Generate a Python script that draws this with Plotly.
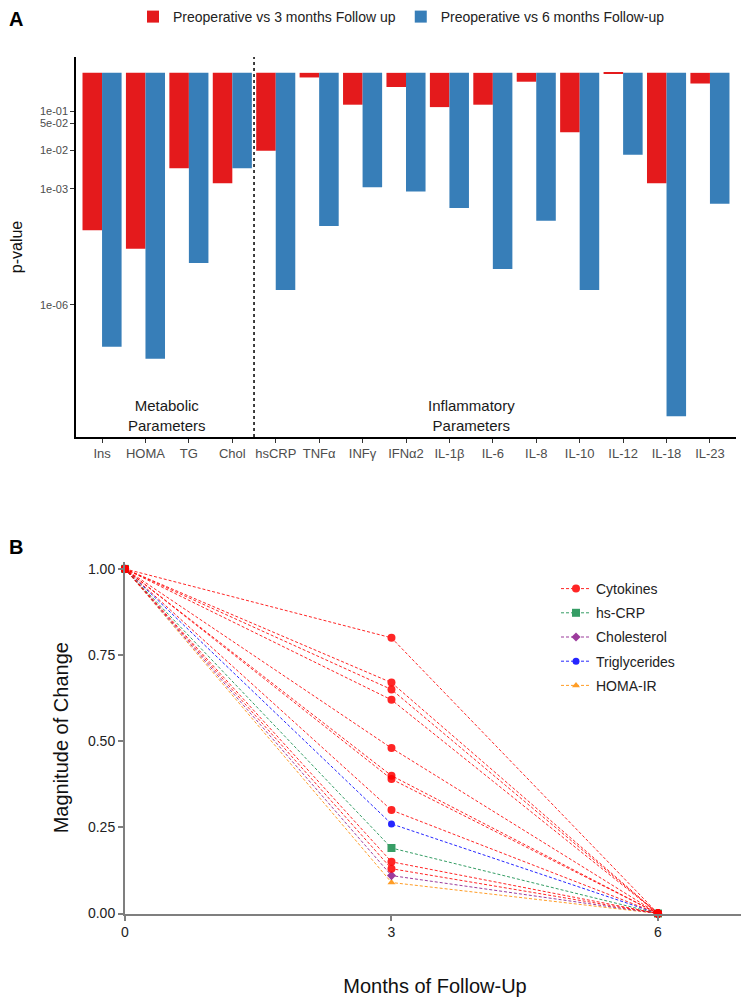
import math
import plotly.graph_objects as go

# ---------------- Panel A data ----------------
categories = ["Ins", "HOMA", "TG", "Chol", "hsCRP", "TNFα", "INFγ", "IFNα2",
              "IL-1β", "IL-6", "IL-8", "IL-10", "IL-12", "IL-18", "IL-23"]
p_3_months = [8.5e-5, 2.8e-5, 3.4e-3, 1.4e-3, 9.6e-3, 0.76, 0.15, 0.43,
              0.13, 0.15, 0.59, 0.029, 0.97, 1.4e-3, 0.53]
p_6_months = [8.2e-8, 4.0e-8, 1.2e-5, 3.4e-3, 2.4e-6, 1.1e-4, 1.1e-3, 8.5e-4,
              3.2e-4, 8.4e-6, 1.5e-4, 2.4e-6, 7.6e-3, 1.3e-9, 4.1e-4]
p_tick_vals = [1e-6, 1e-3, 1e-2, 5e-2, 1e-1]
p_tick_text = ["1e-06", "1e-03", "1e-02", "5e-02", "1e-01"]
significance = 0.05
group_labels = [("Metabolic<br>Parameters", 1.5), ("Inflammatory<br>Parameters", 8.5)]
group_split = 3.5

# ---------------- Panel B data ----------------
months = [0, 3, 6]
cytokines_3m = [0.80, 0.67, 0.65, 0.62, 0.48, 0.40, 0.39, 0.30, 0.15, 0.13]
hscrp_3m = 0.19
cholesterol_3m = 0.11
triglycerides_3m = 0.26
homa_3m = 0.09
start_value = 1.0
end_value = 0.0

FONT = "Liberation Sans, Arial, sans-serif"
RED = "#E41A1C"
BLUE = "#377EB8"

# page body has an 8px margin: the figure is sized to fill the rest of the window
OFF = 8
W, H = 749 - OFF, 1001 - OFF

def px_x(x):
    return (x - OFF) / W

def px_y(y):
    return 1 - (y - OFF) / H

fig = go.Figure()

# Panel A bars: drawn from p = 1 down to the p-value on a log axis
fig.add_trace(go.Bar(
    x=categories, y=[p - 1 for p in p_3_months], base=[1] * len(categories),
    customdata=p_3_months, hovertemplate="%{x}: p=%{customdata:.2e}<extra></extra>",
    name="Preoperative vs 3 months Follow up", marker=dict(color=RED, line=dict(width=0)),
    xaxis="x", yaxis="y", legend="legend"))
fig.add_trace(go.Bar(
    x=categories, y=[p - 1 for p in p_6_months], base=[1] * len(categories),
    customdata=p_6_months, hovertemplate="%{x}: p=%{customdata:.2e}<extra></extra>",
    name="Preoperative vs 6 months Follow-up", marker=dict(color=BLUE, line=dict(width=0)),
    xaxis="x", yaxis="y", legend="legend"))

# Panel B lines
def series(v):
    return [start_value, v, end_value]

line_specs = [
    ("HOMA-IR", [homa_3m], "#FF8C00", "triangle-up", 7, 5),
    ("Cholesterol", [cholesterol_3m], "#8B1A8B", "diamond", 7, 3),
    ("Triglycerides", [triglycerides_3m], "#0000FF", "circle", 7, 4),
    ("hs-CRP", [hscrp_3m], "#138D4B", "square", 8, 2),
    ("Cytokines", cytokines_3m, "#FF0000", "circle", 8, 1),
]
for name, vals, color, symbol, size, rank in line_specs:
    for i, v in enumerate(vals):
        fig.add_trace(go.Scatter(
            x=months, y=series(v), mode="lines+markers", name=name,
            legendgroup=name, showlegend=(i == 0), legendrank=rank,
            line=dict(color=color, width=1, dash="3px,2px"),
            marker=dict(color=color, symbol=symbol, size=size),
            opacity=0.85, cliponaxis=False,
            xaxis="x2", yaxis="y2", legend="legend2"))

axA_x = [px_x(76), px_x(736)]
axA_y = [px_y(437), px_y(57)]
axB_x = [px_x(125), px_x(745)]
axB_y = [px_y(913.5), px_y(562)]

fig.update_layout(
    width=W, height=H, autosize=False,
    margin=dict(l=0, r=0, t=0, b=0, autoexpand=False),
    paper_bgcolor="white", plot_bgcolor="white",
    font=dict(family=FONT, color="#222222"),
    barmode="group", bargap=0.1, bargroupgap=0,
    xaxis=dict(domain=axA_x, anchor="y", type="category", range=[-0.6, 14.6], automargin=False,
               showline=True, linecolor="black", linewidth=1.5, mirror=False,
               ticks="outside", ticklen=4, tickcolor="#333333", tickwidth=1,
               tickfont=dict(size=13, color="#4D4D4D", family=FONT),
               showgrid=False, zeroline=False, fixedrange=True),
    yaxis=dict(domain=axA_y, anchor="x", type="log", range=[-9.42, 0.41], automargin=False,
               tickvals=p_tick_vals, ticktext=p_tick_text,
               showline=True, linecolor="black", linewidth=1.5,
               ticks="outside", ticklen=4, tickcolor="#333333", tickwidth=1,
               tickfont=dict(size=11, color="#4D4D4D", family=FONT),
               title=dict(text="p-value", font=dict(size=16, color="#111111", family=FONT), standoff=14),
               showgrid=False, zeroline=False, fixedrange=True),
    xaxis2=dict(domain=axB_x, anchor="y2", range=[0, 6.98], automargin=False,
                tickvals=months, ticktext=[str(m) for m in months],
                showline=True, linecolor="#7F7F7F", linewidth=2,
                ticks="outside", ticklen=5, tickcolor="#7F7F7F", tickwidth=1.5,
                tickfont=dict(size=14, color="#222222", family=FONT),
                title=dict(text="Months of Follow-Up", font=dict(size=20, color="#111111", family=FONT), standoff=40),
                showgrid=False, zeroline=False, fixedrange=True),
    yaxis2=dict(domain=axB_y, anchor="x2", range=[0, 1.02], automargin=False,
                tickvals=[0, 0.25, 0.5, 0.75, 1.0], ticktext=["0.00", "0.25", "0.50", "0.75", "1.00"],
                showline=True, linecolor="#7F7F7F", linewidth=2,
                ticks="outside", ticklen=5, tickcolor="#7F7F7F", tickwidth=1.5,
                tickfont=dict(size=14, color="#222222", family=FONT),
                title=dict(text="Magnitude of Change", font=dict(size=20, color="#111111", family=FONT), standoff=14),
                showgrid=False, zeroline=False, fixedrange=True),
    legend=dict(orientation="h", x=px_x(133), xanchor="left", y=px_y(17), yanchor="middle",
                font=dict(size=14, color="#222222", family=FONT), bgcolor="rgba(0,0,0,0)",
                traceorder="normal"),
    legend2=dict(orientation="v", x=px_x(556), xanchor="left", y=px_y(573), yanchor="top",
                 font=dict(size=14, color="#222222", family=FONT), bgcolor="rgba(0,0,0,0)",
                 traceorder="grouped", tracegroupgap=3, itemsizing="trace"),
    showlegend=True,
)

shapes = [
    dict(type="line", xref="x domain", x0=0, x1=1, yref="y",
         y0=math.log10(significance), y1=math.log10(significance),
         line=dict(color="black", width=1.5, dash="dash")),
    dict(type="line", xref="x", x0=group_split, x1=group_split, yref="y domain", y0=0, y1=1,
         line=dict(color="black", width=1.5, dash="dot")),
]
fig.update_layout(shapes=shapes)

annotations = []
for label, xc in group_labels:
    annotations.append(dict(text=label, x=xc, xref="x", y=px_y(415), yref="paper",
                            showarrow=False, font=dict(size=15, color="#1A1A1A", family=FONT),
                            xanchor="center", yanchor="middle"))
annotations.append(dict(text="<b>A</b>", x=px_x(16), y=px_y(19), xref="paper", yref="paper",
                        showarrow=False, font=dict(size=20, color="black", family=FONT),
                        xanchor="center", yanchor="middle"))
annotations.append(dict(text="<b>B</b>", x=px_x(16), y=px_y(547), xref="paper", yref="paper",
                        showarrow=False, font=dict(size=20, color="black", family=FONT),
                        xanchor="center", yanchor="middle"))
fig.update_layout(annotations=annotations)

fig.write_html("out.html")
